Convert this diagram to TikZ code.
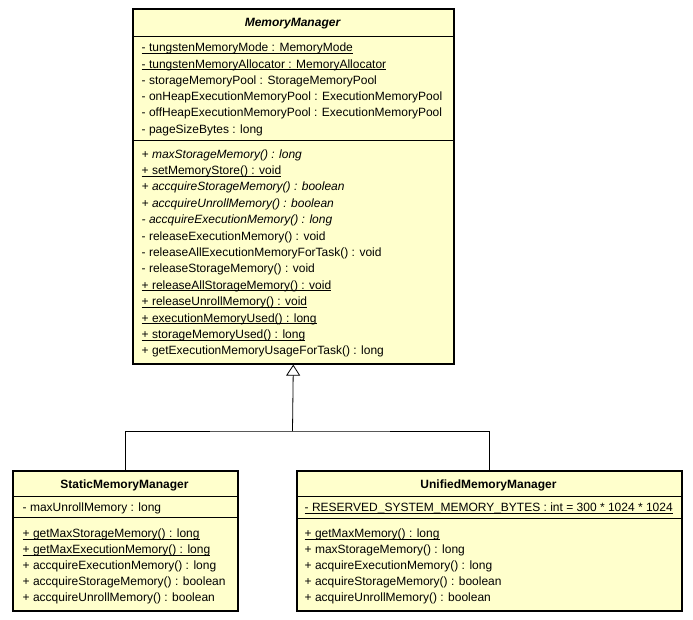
\documentclass[tikz,border=0pt]{standalone}
\usepackage{fontspec}
\setmainfont{Liberation Sans}
\usetikzlibrary{arrows.meta}

\definecolor{classfill}{RGB}{255,255,204}
% static members are underlined
\newcommand{\stmember}[1]{\setbox0\hbox{#1}\rlap{\rule[-2pt]{\wd0}{0.8pt}}\box0}

\tikzset{
  classbox/.style={draw=black, line width=1.6pt, fill=classfill, inner sep=0pt, anchor=north west},
  classname/.style={font=\fontsize{12}{14}\selectfont\bfseries, inner sep=0pt, anchor=base},
  member/.style={font=\fontsize{12}{14}\selectfont, inner sep=0pt, anchor=base west},
  sepline/.style={draw=black, line width=0.8pt},
  extends/.style={draw=black, line width=0.8pt, -{Triangle[open, length=11pt, width=14pt, line width=0.8pt]}},
}

\begin{document}
\begin{tikzpicture}[x=1pt, y=-1pt]
\useasboundingbox (0,0) rectangle (693,619);

% MemoryManager
\node[classbox, minimum width=321pt, minimum height=355pt] (mm) at (132,8) {};
\draw[sepline] (132,36) -- (453,36);
\draw[sepline] (132,140) -- (453,140);
\node[classname] (mm-name) at (292.5,26) {\itshape MemoryManager};

\node[member] (mm-a1) at (141.5,51.7) {\stmember{- tungstenMemoryMode : MemoryMode}};
\node[member] (mm-a2) at (141.5,68) {\stmember{- tungstenMemoryAllocator : MemoryAllocator}};
\node[member] (mm-a3) at (141.5,84.3) {- storageMemoryPool : StorageMemoryPool};
\node[member] (mm-a4) at (141.5,100.6) {- onHeapExecutionMemoryPool : ExecutionMemoryPool};
\node[member] (mm-a5) at (141.5,116.9) {- offHeapExecutionMemoryPool : ExecutionMemoryPool};
\node[member] (mm-a6) at (141.5,133.2) {- pageSizeBytes : long};

\node[member] (mm-m1) at (141.5,158) {\itshape + maxStorageMemory() : long};
\node[member] (mm-m2) at (141.5,174.4) {\stmember{+ setMemoryStore() : void}};
\node[member] (mm-m3) at (141.5,190.8) {\itshape + accquireStorageMemory() : boolean};
\node[member] (mm-m4) at (141.5,207.2) {\itshape + accquireUnrollMemory() : boolean};
\node[member] (mm-m5) at (141.5,223.6) {\itshape - accquireExecutionMemory() : long};
\node[member] (mm-m6) at (141.5,240) {- releaseExecutionMemory() : void};
\node[member] (mm-m7) at (141.5,256.4) {- releaseAllExecutionMemoryForTask() : void};
\node[member] (mm-m8) at (141.5,272.8) {- releaseStorageMemory() : void};
\node[member] (mm-m9) at (141.5,289.2) {\stmember{+ releaseAllStorageMemory() : void}};
\node[member] (mm-m10) at (141.5,305.6) {\stmember{+ releaseUnrollMemory() : void}};
\node[member] (mm-m11) at (141.5,322) {\stmember{+ executionMemoryUsed() : long}};
\node[member] (mm-m12) at (141.5,338.4) {\stmember{+ storageMemoryUsed() : long}};
\node[member] (mm-m13) at (141.5,354.8) {+ getExecutionMemoryUsageForTask() : long};

% StaticMemoryManager
\node[classbox, minimum width=225pt, minimum height=140pt] (smm) at (12,470) {};
\draw[sepline] (12,496) -- (237,496);
\draw[sepline] (12,517) -- (237,517);
\node[classname] (smm-name) at (124.5,488.5) {StaticMemoryManager};

\node[member] (smm-a1) at (22.5,511.7) {- maxUnrollMemory : long};
\node[member] (smm-m1) at (22.5,537.3) {\stmember{+ getMaxStorageMemory() : long}};
\node[member] (smm-m2) at (22.5,553.3) {\stmember{+ getMaxExecutionMemory() : long}};
\node[member] (smm-m3) at (22.5,569.3) {+ accquireExecutionMemory() : long};
\node[member] (smm-m4) at (22.5,585.3) {+ accquireStorageMemory() : boolean};
\node[member] (smm-m5) at (22.5,601.3) {+ accquireUnrollMemory() : boolean};

% UnifiedMemoryManager
\node[classbox, minimum width=385pt, minimum height=140pt] (umm) at (296,470) {};
\draw[sepline] (296,496) -- (681,496);
\draw[sepline] (296,518) -- (681,518);
\node[classname] (umm-name) at (488.5,488.5) {UnifiedMemoryManager};

\node[member] (umm-a1) at (304.5,511.7) {\stmember{- RESERVED\_SYSTEM\_MEMORY\_BYTES : int = 300 * 1024 * 1024}};
\node[member] (umm-m1) at (304.5,537.3) {\stmember{+ getMaxMemory() : long}};
\node[member] (umm-m2) at (304.5,553.3) {+ maxStorageMemory() : long};
\node[member] (umm-m3) at (304.5,569.3) {+ acquireExecutionMemory() : long};
\node[member] (umm-m4) at (304.5,585.3) {+ acquireStorageMemory() : boolean};
\node[member] (umm-m5) at (304.5,601.3) {+ acquireUnrollMemory() : boolean};

% generalization
\coordinate (join) at (292.5,431);
\draw[sepline] (smm.north) |- (join) -| (umm.north);
\draw[extends] (join) -- (mm.south);

\end{tikzpicture}
\end{document}
